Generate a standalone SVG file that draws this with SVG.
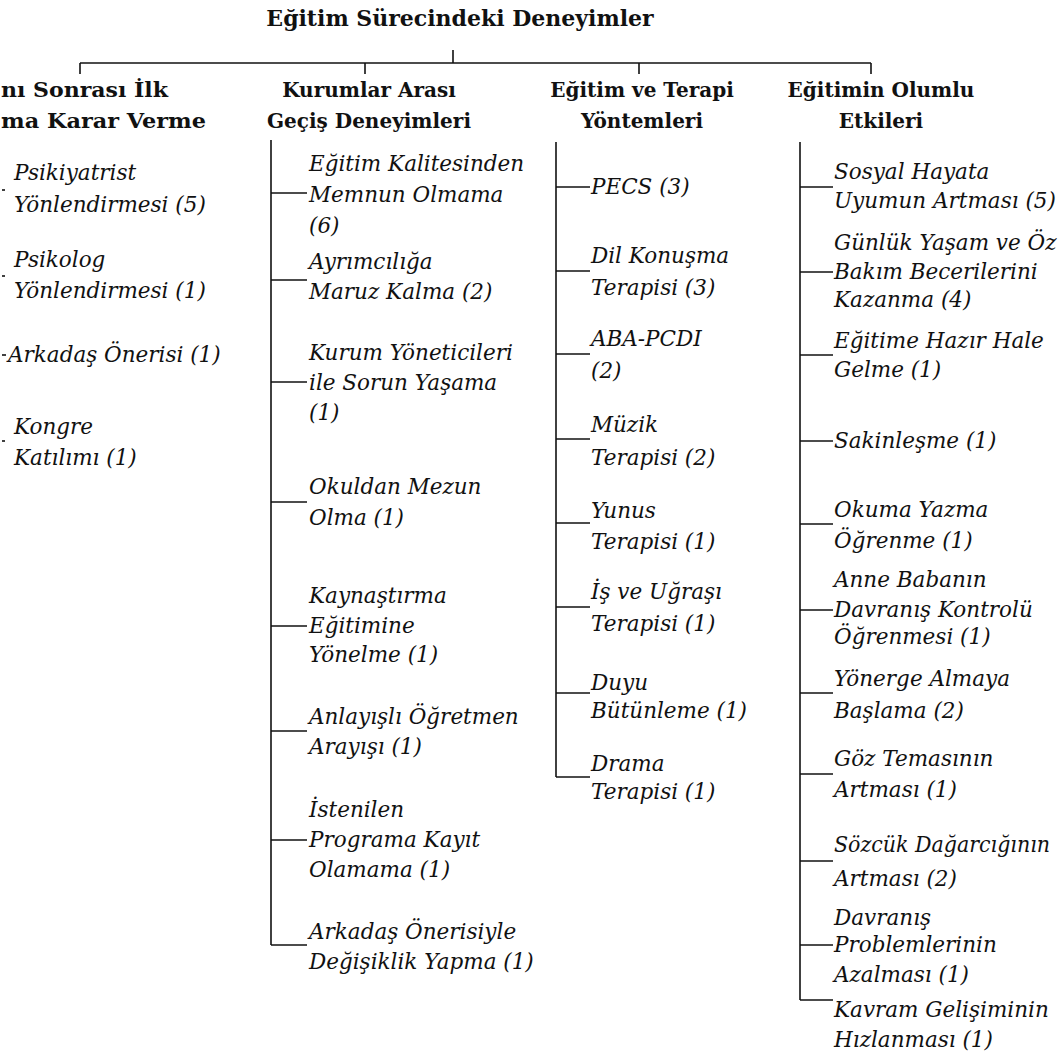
<svg xmlns="http://www.w3.org/2000/svg" width="1061" height="1059" viewBox="0 0 1061 1059">
<style>
.t{font-family:"DejaVu Serif","Liberation Serif",serif;font-weight:bold;font-size:22px;fill:#111;text-anchor:middle}
.h{font-family:"DejaVu Serif","Liberation Serif",serif;font-weight:bold;font-size:20px;fill:#111;text-anchor:middle}
.h0{font-family:"DejaVu Serif","Liberation Serif",serif;font-weight:bold;font-size:20px;fill:#111}
.i{font-family:"DejaVu Serif","Liberation Serif",serif;font-style:italic;font-size:21.5px;fill:#111}
.c line{stroke:#111;stroke-width:1.6;fill:none}
</style>
<rect width="1061" height="1059" fill="#fff"/>
<g id="root"><text class="t" x="460" y="26">Eğitim Sürecindeki Deneyimler</text></g>
<g class="c" id="connectors">
<line x1="453" y1="50" x2="453" y2="63"/>
<line x1="80" y1="63" x2="871" y2="63"/>
<line x1="80" y1="63" x2="80" y2="74"/>
<line x1="365" y1="63" x2="365" y2="74"/>
<line x1="639" y1="63" x2="639" y2="74"/>
<line x1="871" y1="63" x2="871" y2="74"/>
<line x1="2" y1="190" x2="5" y2="190"/>
<line x1="2" y1="276" x2="5" y2="276"/>
<line x1="2" y1="355" x2="6" y2="355"/>
<line x1="2" y1="441" x2="5" y2="441"/>
<line x1="271" y1="140" x2="271" y2="945"/>
<line x1="271" y1="193" x2="307" y2="193"/>
<line x1="271" y1="280" x2="307" y2="280"/>
<line x1="271" y1="382" x2="307" y2="382"/>
<line x1="271" y1="502" x2="307" y2="502"/>
<line x1="271" y1="626" x2="307" y2="626"/>
<line x1="271" y1="731" x2="307" y2="731"/>
<line x1="271" y1="840" x2="307" y2="840"/>
<line x1="271" y1="945" x2="307" y2="945"/>
<line x1="556" y1="142" x2="556" y2="777"/>
<line x1="556" y1="187" x2="590" y2="187"/>
<line x1="556" y1="271" x2="590" y2="271"/>
<line x1="556" y1="354" x2="590" y2="354"/>
<line x1="556" y1="439" x2="590" y2="439"/>
<line x1="556" y1="523" x2="590" y2="523"/>
<line x1="556" y1="607" x2="590" y2="607"/>
<line x1="556" y1="693" x2="590" y2="693"/>
<line x1="556" y1="777" x2="590" y2="777"/>
<line x1="800" y1="142" x2="800" y2="1000"/>
<line x1="800" y1="187" x2="833" y2="187"/>
<line x1="800" y1="272" x2="833" y2="272"/>
<line x1="800" y1="355" x2="833" y2="355"/>
<line x1="800" y1="441" x2="833" y2="441"/>
<line x1="800" y1="524" x2="833" y2="524"/>
<line x1="800" y1="610" x2="833" y2="610"/>
<line x1="800" y1="693" x2="833" y2="693"/>
<line x1="800" y1="774" x2="833" y2="774"/>
<line x1="800" y1="861" x2="833" y2="861"/>
<line x1="800" y1="945" x2="833" y2="945"/>
<line x1="800" y1="1000" x2="833" y2="1000"/>
</g>
<g id="h1"><text class="h0" x="1" y="97" textLength="167" lengthAdjust="spacingAndGlyphs">nı Sonrası İlk</text><text class="h0" x="1" y="128" textLength="205" lengthAdjust="spacingAndGlyphs">ma Karar Verme</text></g>
<g id="h2"><text class="h" x="369" y="97">Kurumlar Arası</text><text class="h" x="369" y="128">Geçiş  Deneyimleri</text></g>
<g id="h3"><text class="h" x="642" y="97">Eğitim ve Terapi</text><text class="h" x="642" y="128">Yöntemleri</text></g>
<g id="h4"><text class="h" x="881" y="97">Eğitimin Olumlu</text><text class="h" x="881" y="128">Etkileri</text></g>

<g id="c1n1"><text class="i" x="14" y="180">Psikiyatrist</text><text class="i" x="14" y="212">Yönlendirmesi  (5)</text></g>
<g id="c1n2"><text class="i" x="14" y="267">Psikolog</text><text class="i" x="14" y="298">Yönlendirmesi  (1)</text></g>
<g id="c1n3"><text class="i" x="8" y="362">Arkadaş  Önerisi  (1)</text></g>
<g id="c1n4"><text class="i" x="14" y="434">Kongre</text><text class="i" x="14" y="465">Katılımı  (1)</text></g>

<g id="c2n1"><text class="i" x="309" y="171">Eğitim Kalitesinden</text><text class="i" x="309" y="202">Memnun  Olmama</text><text class="i" x="309" y="233">(6)</text></g>
<g id="c2n2"><text class="i" x="309" y="269">Ayrımcılığa</text><text class="i" x="309" y="299">Maruz  Kalma (2)</text></g>
<g id="c2n3"><text class="i" x="309" y="360">Kurum Yöneticileri</text><text class="i" x="309" y="390">ile Sorun  Yaşama</text><text class="i" x="309" y="420">(1)</text></g>
<g id="c2n4"><text class="i" x="309" y="494">Okuldan  Mezun</text><text class="i" x="309" y="525">Olma (1)</text></g>
<g id="c2n5"><text class="i" x="309" y="603">Kaynaştırma</text><text class="i" x="309" y="633">Eğitimine</text><text class="i" x="309" y="662">Yönelme  (1)</text></g>
<g id="c2n6"><text class="i" x="309" y="724">Anlayışlı Öğretmen</text><text class="i" x="309" y="754">Arayışı  (1)</text></g>
<g id="c2n7"><text class="i" x="309" y="817">İstenilen</text><text class="i" x="309" y="847">Programa Kayıt</text><text class="i" x="309" y="877">Olamama (1)</text></g>
<g id="c2n8"><text class="i" x="309" y="939">Arkadaş  Önerisiyle</text><text class="i" x="309" y="969">Değişiklik Yapma (1)</text></g>

<g id="c3n1"><text class="i" x="591" y="194">PECS (3)</text></g>
<g id="c3n2"><text class="i" x="591" y="263">Dil Konuşma</text><text class="i" x="591" y="295">Terapisi  (3)</text></g>
<g id="c3n3"><text class="i" x="591" y="346">ABA-PCDI</text><text class="i" x="591" y="378">(2)</text></g>
<g id="c3n4"><text class="i" x="591" y="432">Müzik</text><text class="i" x="591" y="465">Terapisi  (2)</text></g>
<g id="c3n5"><text class="i" x="591" y="518">Yunus</text><text class="i" x="591" y="549">Terapisi  (1)</text></g>
<g id="c3n6"><text class="i" x="591" y="599">İş ve Uğraşı</text><text class="i" x="591" y="631">Terapisi  (1)</text></g>
<g id="c3n7"><text class="i" x="591" y="690">Duyu</text><text class="i" x="591" y="718">Bütünleme (1)</text></g>
<g id="c3n8"><text class="i" x="591" y="771">Drama</text><text class="i" x="591" y="799">Terapisi  (1)</text></g>

<g id="c4n1"><text class="i" x="834" y="179">Sosyal Hayata</text><text class="i" x="834" y="208">Uyumun Artması (5)</text></g>
<g id="c4n2"><text class="i" x="834" y="250">Günlük Yaşam ve Öz</text><text class="i" x="834" y="279">Bakım  Becerilerini</text><text class="i" x="834" y="307">Kazanma  (4)</text></g>
<g id="c4n3"><text class="i" x="834" y="348">Eğitime Hazır  Hale</text><text class="i" x="834" y="377">Gelme  (1)</text></g>
<g id="c4n4"><text class="i" x="834" y="448">Sakinleşme  (1)</text></g>
<g id="c4n5"><text class="i" x="834" y="517">Okuma Yazma</text><text class="i" x="834" y="548">Öğrenme  (1)</text></g>
<g id="c4n6"><text class="i" x="834" y="587">Anne Babanın</text><text class="i" x="834" y="617">Davranış  Kontrolü</text><text class="i" x="834" y="644">Öğrenmesi  (1)</text></g>
<g id="c4n7"><text class="i" x="834" y="686">Yönerge  Almaya</text><text class="i" x="834" y="718">Başlama (2)</text></g>
<g id="c4n8"><text class="i" x="834" y="766">Göz Temasının</text><text class="i" x="834" y="797">Artması  (1)</text></g>
<g id="c4n9"><text class="i" x="834" y="852" textLength="216" lengthAdjust="spacingAndGlyphs">Sözcük  Dağarcığının</text><text class="i" x="834" y="886">Artması  (2)</text></g>
<g id="c4n10"><text class="i" x="834" y="925">Davranış</text><text class="i" x="834" y="952">Problemlerinin</text><text class="i" x="834" y="982">Azalması  (1)</text></g>
<g id="c4n11"><text class="i" x="834" y="1017">Kavram  Gelişiminin</text><text class="i" x="834" y="1047">Hızlanması  (1)</text></g>
</svg>
